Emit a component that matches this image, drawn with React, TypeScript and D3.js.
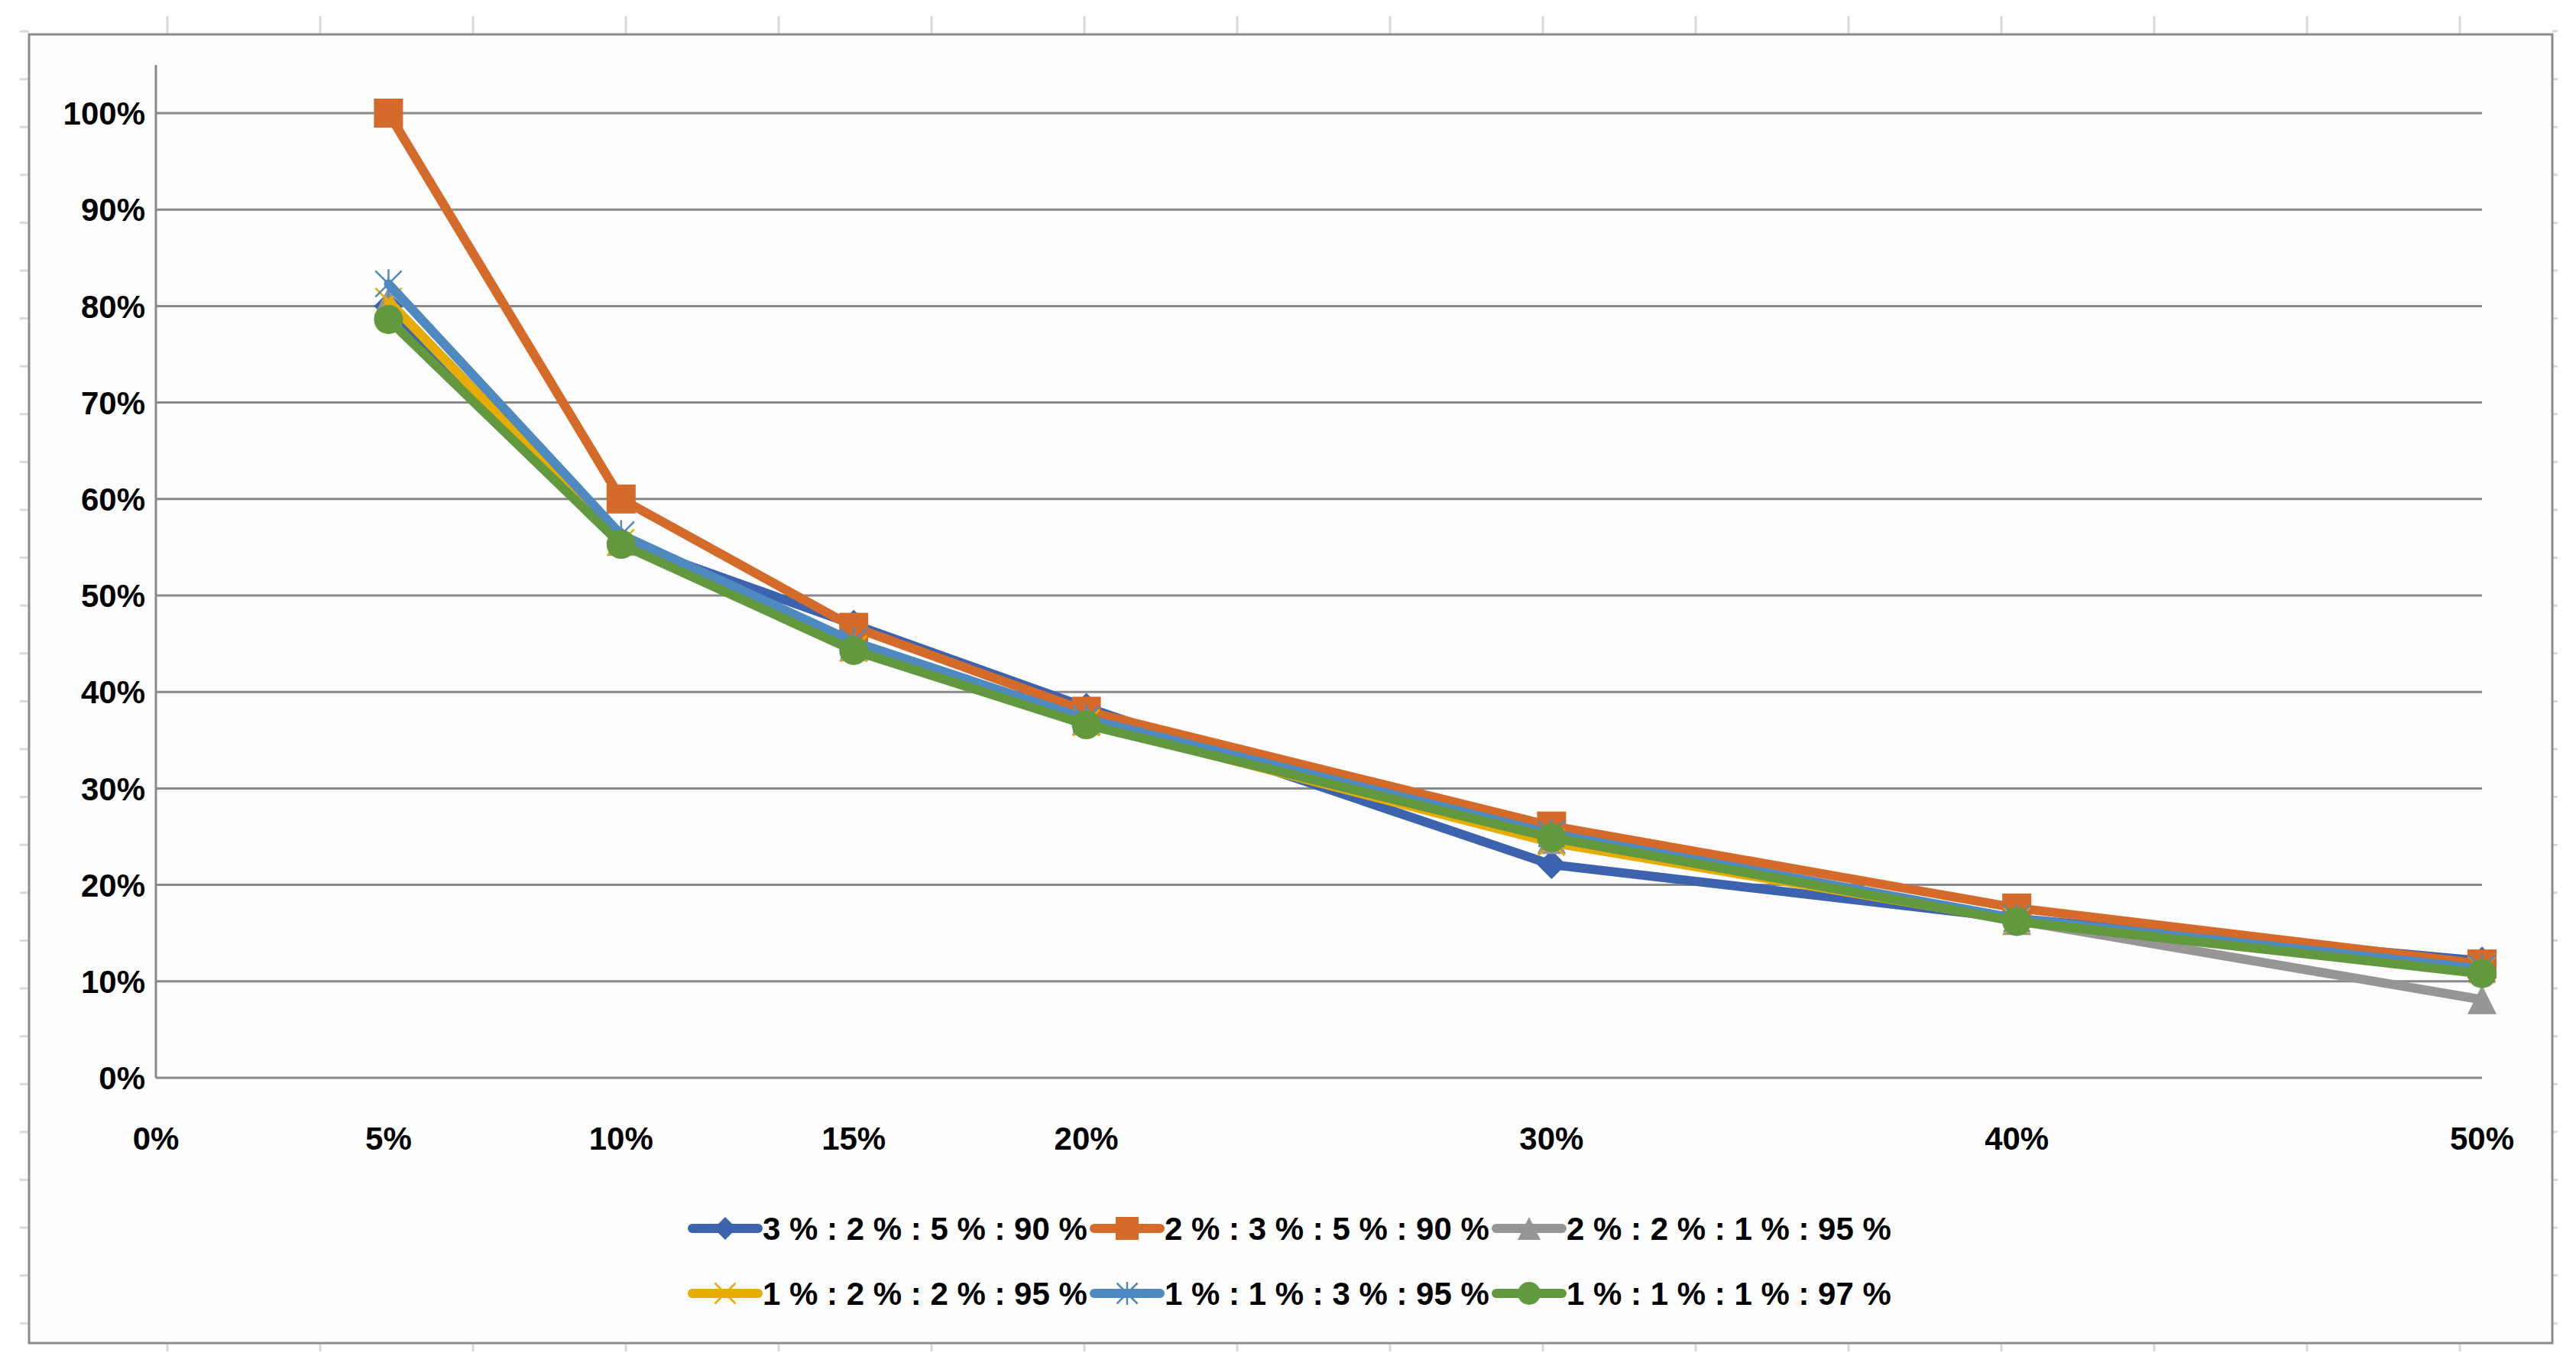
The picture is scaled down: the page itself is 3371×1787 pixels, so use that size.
import React, { useRef, useEffect } from "react";
import * as d3 from "d3";

// x values (share of something) and tick labels
const xValues: number[] = [0.05, 0.1, 0.15, 0.2, 0.3, 0.4, 0.5];
const xTickValues: number[] = [0, 0.05, 0.1, 0.15, 0.2, 0.3, 0.4, 0.5];
const yTickValues: number[] = [0, 0.1, 0.2, 0.3, 0.4, 0.5, 0.6, 0.7, 0.8, 0.9, 1.0];

const seriesNames: string[] = [
  "3 % : 2 % : 5 % : 90 %",
  "2 % : 3 % : 5 % : 90 %",
  "2 % : 2 % : 1 % : 95 %",
  "1 % : 2 % : 2 % : 95 %",
  "1 % : 1 % : 3 % : 95 %",
  "1 % : 1 % : 1 % : 97 %",
];

const serie1: number[] = [0.8, 0.556, 0.47, 0.384, 0.221, 0.165, 0.121];
const serie2: number[] = [1.0, 0.6, 0.467, 0.38, 0.261, 0.176, 0.118];
const serie3: number[] = [0.805, 0.556, 0.447, 0.37, 0.247, 0.163, 0.081];
const serie4: number[] = [0.805, 0.555, 0.445, 0.368, 0.244, 0.163, 0.112];
const serie5: number[] = [0.823, 0.563, 0.452, 0.372, 0.253, 0.165, 0.113];
const serie6: number[] = [0.786, 0.553, 0.443, 0.366, 0.249, 0.162, 0.108];

const seriesColors: string[] = ["#3D63AE", "#D46B2B", "#969696", "#E6AC00", "#4E89C0", "#62993E"];
const seriesMarkers: string[] = ["diamond", "square", "triangle", "x", "star", "circle"];

const App = () => {
  const canvas = useRef<HTMLDivElement>(null);

  const W = 3371;
  const H = 1787;
  const plot = { left: 204, right: 3248, top: 148, bottom: 1410 };
  const font = "'Liberation Sans', Arial, sans-serif";

  const xScale = d3.scaleLinear().domain([0, 0.5]).range([plot.left, plot.right]);
  const yScale = d3.scaleLinear().domain([0, 1]).range([plot.bottom, plot.top]);

  function drawMarker(g: d3.Selection<SVGGElement, unknown, null, undefined>, type: string, color: string, s: number) {
    const h = s / 2;
    if (type === "diamond") {
      g.append("path").attr("d", `M0,${-h}L${h},0L0,${h}L${-h},0Z`).attr("fill", color);
    } else if (type === "square") {
      g.append("rect").attr("x", -h).attr("y", -h).attr("width", s).attr("height", s).attr("fill", color);
    } else if (type === "triangle") {
      g.append("path").attr("d", `M0,${-h}L${h},${h}L${-h},${h}Z`).attr("fill", color);
    } else if (type === "circle") {
      g.append("circle").attr("r", h).attr("fill", color);
    } else if (type === "x" || type === "star") {
      const k = h * 0.9;
      g.append("path")
        .attr("d", `M${-k},${-k}L${k},${k}M${k},${-k}L${-k},${k}` + (type === "star" ? `M0,${-h}L0,${h}` : ""))
        .attr("stroke", color)
        .attr("stroke-width", 2.5)
        .attr("fill", "none");
    }
  }

  const drawChart = () => {
    d3.select(canvas.current).selectAll("*").remove();
    const svg = d3.select(canvas.current)
      .append("svg")
      .attr("width", W)
      .attr("height", H)
      .style("position", "absolute")
      .style("left", "0px")
      .style("top", "0px")
      .style("background", "#ffffff");

    // sheet cell lines peeking out around the chart frame
    const cellCols = d3.range(19, W, 200);
    const cellRows = d3.range(41, H, 62.6);
    const cells = svg.append("g").attr("stroke", "#D3DAE6").attr("stroke-width", 3);
    cellCols.forEach((cx) => {
      if (cx > 38 && cx < 3340) {
        cells.append("line").attr("x1", cx).attr("x2", cx).attr("y1", 21).attr("y2", 44);
        cells.append("line").attr("x1", cx).attr("x2", cx).attr("y1", 1758).attr("y2", 1768);
      }
    });
    cellRows.forEach((cy) => {
      if (cy < 1757) {
        cells.append("line").attr("x1", 26).attr("x2", 38).attr("y1", cy).attr("y2", cy);
        cells.append("line").attr("x1", 3340).attr("x2", 3347).attr("y1", cy).attr("y2", cy);
      }
    });

    // chart frame
    svg.append("rect")
      .attr("x", 38).attr("y", 45)
      .attr("width", 3302).attr("height", 1712)
      .attr("fill", "#FDFDFD")
      .attr("stroke", "#8C8C8C")
      .attr("stroke-width", 3);

    // gridlines
    svg.append("g")
      .selectAll("line")
      .data(yTickValues)
      .enter().append("line")
      .attr("x1", plot.left).attr("x2", plot.right)
      .attr("y1", (d) => yScale(d)).attr("y2", (d) => yScale(d))
      .attr("stroke", "#898989")
      .attr("stroke-width", 3);

    // y axis line (goes up to 105%)
    svg.append("line")
      .attr("x1", plot.left).attr("x2", plot.left)
      .attr("y1", yScale(1.05)).attr("y2", yScale(0))
      .attr("stroke", "#898989")
      .attr("stroke-width", 3);

    // y tick labels
    svg.append("g")
      .selectAll("text")
      .data(yTickValues)
      .enter().append("text")
      .attr("x", 190)
      .attr("y", (d) => yScale(d))
      .attr("dy", "0.36em")
      .attr("text-anchor", "end")
      .style("font-family", font)
      .style("font-weight", "bold")
      .style("font-size", "42px")
      .style("fill", "#000")
      .text((d) => d3.format(".0%")(d));

    // x tick labels
    svg.append("g")
      .selectAll("text")
      .data(xTickValues)
      .enter().append("text")
      .attr("x", (d) => xScale(d))
      .attr("y", 1489)
      .attr("dy", "0.36em")
      .attr("text-anchor", "middle")
      .style("font-family", font)
      .style("font-weight", "bold")
      .style("font-size", "42px")
      .style("fill", "#000")
      .text((d) => d3.format(".0%")(d));

    const allSeries = [serie1, serie2, serie3, serie4, serie5, serie6];
    const line = d3.line<number>()
      .x((_d, i) => xScale(xValues[i]))
      .y((d) => yScale(d));

    allSeries.forEach((vals, si) => {
      const g = svg.append("g");
      g.append("path")
        .attr("d", line(vals) as string)
        .attr("fill", "none")
        .attr("stroke", seriesColors[si])
        .attr("stroke-width", 12)
        .attr("stroke-linejoin", "round")
        .attr("stroke-linecap", "round");
      vals.forEach((v, i) => {
        const m = g.append("g").attr("transform", `translate(${xScale(xValues[i])},${yScale(v)})`);
        drawMarker(m, seriesMarkers[si], seriesColors[si], 38);
      });
    });

    // legend: 2 rows x 3 items
    const legend = svg.append("g");
    seriesNames.forEach((name, i) => {
      const col = i % 3;
      const row = Math.floor(i / 3);
      const lx = 906 + col * 526;
      const ly = 1607 + row * 85;
      const item = legend.append("g").attr("transform", `translate(${lx},${ly})`);
      item.append("line")
        .attr("x1", 0).attr("x2", 86)
        .attr("y1", 0).attr("y2", 0)
        .attr("stroke", seriesColors[i])
        .attr("stroke-width", 12)
        .attr("stroke-linecap", "round");
      const m = item.append("g").attr("transform", "translate(43,0)");
      drawMarker(m, seriesMarkers[i], seriesColors[i], 30);
      item.append("text")
        .attr("x", 92)
        .attr("y", 0)
        .attr("dy", "0.36em")
        .style("font-family", font)
        .style("font-weight", "bold")
        .style("font-size", "42px")
        .style("fill", "#000")
        .text(name);
    });
  };

  useEffect(() => {
    drawChart();
  });

  return <div ref={canvas}></div>;
};

export default App;
